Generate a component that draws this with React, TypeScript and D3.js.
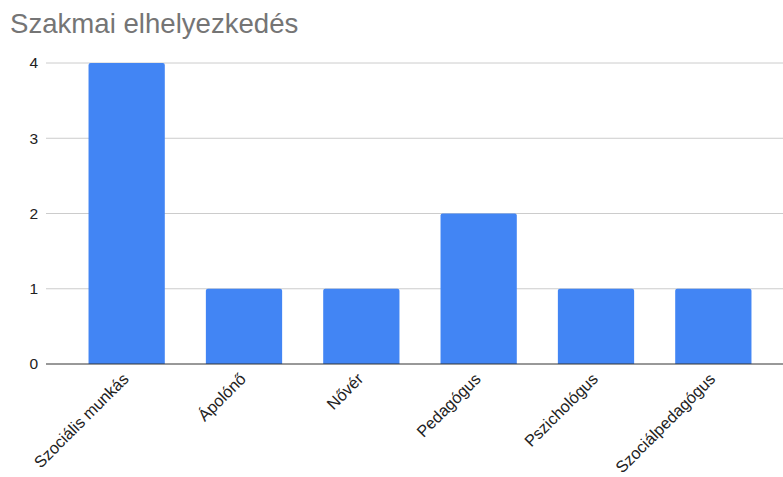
import React from "react";
import * as d3 from "d3";

const categories = ["Szociális munkás", "Ápolónő", "Nővér", "Pedagógus", "Pszichológus", "Szociálpedagógus"];
const values = [4, 1, 1, 2, 1, 1];
const yTicks = [0, 1, 2, 3, 4];
const title = "Szakmai elhelyezkedés";

const W = 783;
const H = 477;
const FONT = "'Liberation Sans', Arial, sans-serif";

export default function App() {
  const x = d3.scaleBand<string>().domain(categories).range([68, 772]).paddingInner(0.35).paddingOuter(0.175);
  const y = d3.scaleLinear().domain([0, 4]).range([364, 63]);
  const gridX0 = 46;
  const gridX1 = 783;
  const r = 2;
  const barPath = (cx: number, w: number, y0: number, y1: number) =>
    `M${cx},${y0}V${y1 + r}Q${cx},${y1} ${cx + r},${y1}H${cx + w - r}Q${cx + w},${y1} ${cx + w},${y1 + r}V${y0}Z`;
  return (
    <svg width={W} height={H} style={{ position: "absolute", left: 0, top: 0, background: "#fff" }} fontFamily={FONT}>
      <rect x={0} y={0} width={W} height={H} fill="#fff" />
      <text x={10} y={33} fontSize={27.6} fill="#757575">{title}</text>
      {yTicks.filter((t) => t !== 0).map((t) => (
        <line key={t} x1={gridX0} x2={gridX1} y1={y(t)} y2={y(t)} stroke="#cccccc" strokeWidth={1} />
      ))}
      {yTicks.map((t) => (
        <text key={"l" + t} x={38} y={y(t)} dy="0.35em" textAnchor="end" fontSize={15.5} fill="#222">{t}</text>
      ))}
      {categories.map((c, i) => (
        <path key={c} d={barPath(x(c)!, x.bandwidth(), y(0), y(values[i]))} fill="#4285f4" />
      ))}
      <line x1={gridX0} x2={gridX1} y1={y(0)} y2={y(0)} stroke="#333" strokeWidth={1} />
      {categories.map((c) => {
        const cx = x(c)! + x.bandwidth() / 2 + 3;
        const cy = 380;
        return (
          <text key={"x" + c} x={cx} y={cy} transform={`rotate(-45 ${cx} ${cy})`} textAnchor="end" fontSize={16.3} fill="#222">{c}</text>
        );
      })}
    </svg>
  );
}
